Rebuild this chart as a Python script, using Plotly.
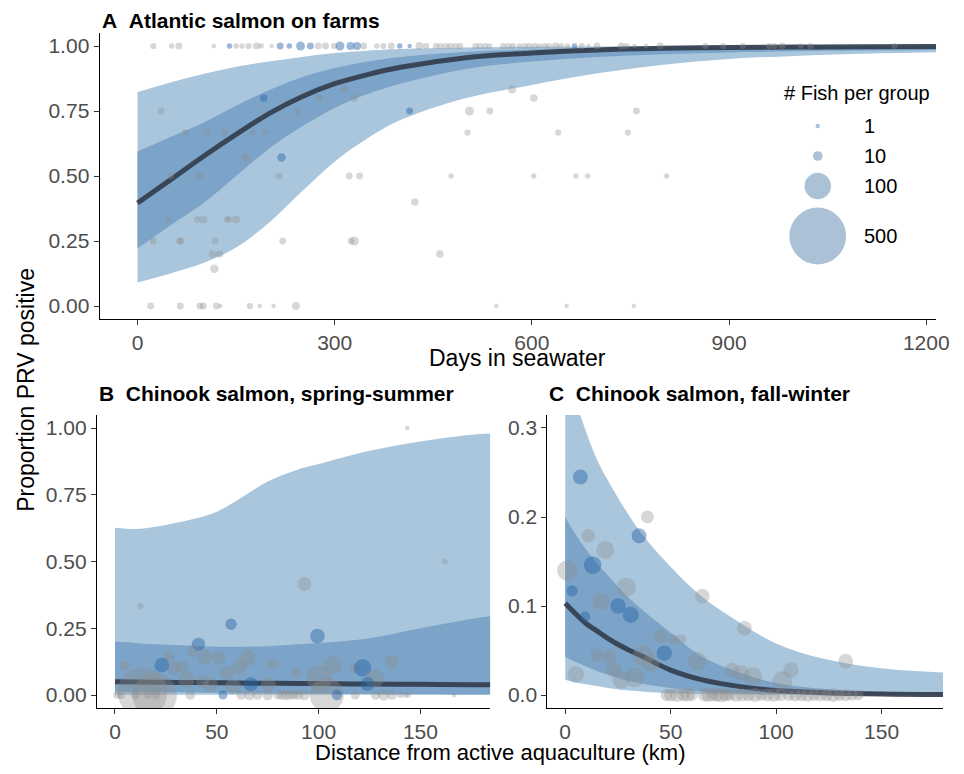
import math
import plotly.graph_objects as go

# ---------------- Panel A: Atlantic salmon on farms ----------------
a_grid = [0, 50, 100, 150, 200, 250, 300, 350, 400, 500, 600, 700, 800, 900, 1000, 1100, 1215]
a_mean = [0.396, 0.485, 0.575, 0.66, 0.74, 0.805, 0.855, 0.89, 0.918, 0.955, 0.973, 0.985, 0.991, 0.994, 0.996, 0.997, 0.998]
a_in_up = [0.594, 0.65, 0.705, 0.77, 0.83, 0.88, 0.915, 0.94, 0.958, 0.977, 0.987, 0.992, 0.995, 0.997, 0.998, 0.998, 0.999]
a_in_lo = [0.222, 0.31, 0.395, 0.50, 0.605, 0.69, 0.762, 0.815, 0.855, 0.912, 0.94, 0.958, 0.968, 0.975, 0.98, 0.983, 0.985]
a_out_up = [0.823, 0.86, 0.892, 0.92, 0.94, 0.958, 0.973, 0.982, 0.988, 0.994, 0.997, 0.998, 0.998, 0.999, 0.999, 0.999, 0.999]
a_out_lo = [0.09, 0.125, 0.165, 0.225, 0.32, 0.44, 0.555, 0.645, 0.715, 0.80, 0.85, 0.895, 0.928, 0.95, 0.962, 0.97, 0.976]

# groups where every fish was positive
a_top_days = [24, 52, 63, 116, 140, 150, 159, 169, 181, 188,
              204, 217, 231, 248, 263, 275, 286, 299, 308, 324,
              334, 344, 364, 374, 386, 399, 414, 429, 439, 454,
              461, 469, 476, 484, 491, 514, 521, 529, 536, 556,
              564, 571, 581, 589, 596, 604, 611, 619, 626, 636,
              644, 654, 665, 676, 686, 699, 736, 744, 756, 774,
              795, 864, 891, 921, 961, 969, 981, 1009, 1024, 1152]
a_top_n = [3, 2, 4, 1, 2, 2, 2, 3, 4, 2,
           1, 4, 2, 8, 4, 4, 4, 3, 8, 6,
           6, 4, 2, 3, 4, 2, 1, 6, 3, 3,
           3, 3, 3, 3, 3, 3, 3, 3, 2, 3,
           3, 3, 2, 3, 3, 3, 2, 3, 3, 4,
           3, 2, 2, 3, 1, 4, 4, 3, 1, 1,
           4, 3, 3, 3, 3, 3, 4, 2, 3, 3]
a_top_blue = [0, 0, 0, 0, 1, 0, 0, 0, 0, 0,
              0, 1, 1, 1, 1, 0, 0, 0, 1, 1,
              1, 0, 0, 0, 0, 1, 1, 0, 0, 0,
              0, 0, 0, 0, 0, 0, 0, 0, 0, 0,
              0, 0, 0, 0, 0, 0, 0, 0, 0, 0,
              0, 0, 1, 0, 0, 0, 0, 0, 0, 0,
              0, 0, 0, 0, 0, 0, 0, 0, 0, 0]

a_days = [36, 192, 244, 276, 314, 330, 414, 505, 536, 570, 603, 759,
          73, 106, 132, 175, 194, 502, 640, 746,
          50, 94, 215, 322, 338, 477, 603, 667, 685, 805,
          165, 219, 422,
          46, 91, 100, 136, 139, 150,
          24, 64, 66, 118, 221, 325, 330,
          114, 125, 460, 117,
          20, 65, 95, 100, 120, 126, 171, 186, 207, 241, 546, 653, 755]
a_prop = [0.75, 0.80, 0.75, 0.80, 0.833, 0.80, 0.75, 0.75, 0.75, 0.833, 0.80, 0.75,
          0.667, 0.667, 0.667, 0.667, 0.667, 0.667, 0.667, 0.667,
          0.5, 0.5, 0.5, 0.5, 0.5, 0.5, 0.5, 0.5, 0.5, 0.5,
          0.571, 0.571, 0.4,
          0.333, 0.333, 0.333, 0.333, 0.333, 0.333,
          0.25, 0.25, 0.25, 0.25, 0.25, 0.25, 0.25,
          0.2, 0.2, 0.2, 0.143,
          0, 0, 0, 0, 0, 0, 0, 0, 0, 0, 0, 0, 0]
a_n = [4, 5, 4, 5, 6, 5, 4, 8, 4, 6, 5, 4,
       3, 3, 3, 3, 3, 3, 3, 3,
       4, 4, 4, 4, 4, 2, 2, 2, 2, 2,
       7, 7, 5,
       3, 3, 6, 3, 3, 6,
       4, 4, 4, 4, 4, 4, 8,
       5, 5, 5, 7,
       4, 4, 4, 4, 4, 1, 3, 1, 1, 6, 1, 1, 1]
a_blue = [0, 1, 0, 0, 0, 0, 1, 0, 0, 0, 0, 0,
          0, 0, 0, 0, 0, 0, 0, 0,
          0, 0, 0, 0, 0, 0, 0, 0, 0, 0,
          0, 1, 0,
          0, 0, 0, 0, 0, 0,
          0, 0, 0, 0, 0, 0, 0,
          0, 0, 0, 0,
          0, 0, 0, 0, 0, 0, 0, 0, 0, 0, 0, 0, 0]

# ---------------- Panel B: Chinook, spring-summer ----------------
b_grid = [0, 10, 20, 30, 40, 50, 60, 75, 90, 100, 125, 150, 175, 184.3]
b_mean = [0.05, 0.049, 0.048, 0.047, 0.047, 0.046, 0.045, 0.044, 0.043, 0.043, 0.041, 0.040, 0.038, 0.038]
b_in_up = [0.20, 0.195, 0.19, 0.187, 0.184, 0.181, 0.181, 0.183, 0.19, 0.195, 0.213, 0.25, 0.285, 0.295]
b_in_lo = [0.013, 0.012, 0.011, 0.010, 0.009, 0.008, 0.0075, 0.007, 0.006, 0.005, 0.004, 0.003, 0.002, 0.002]
b_out_up = [0.627, 0.622, 0.630, 0.645, 0.662, 0.687, 0.73, 0.80, 0.845, 0.865, 0.915, 0.95, 0.975, 0.98]
b_out_lo = [0.001, 0.001, 0.001, 0.001, 0.001, 0.001, 0.001, 0.001, 0.001, 0.001, 0.001, 0.001, 0.001, 0.001]

b_x = [143.5, 162, 12.5, 93, 57, 99.4, 41, 38.5, 26.6, 44.4,
       51, 65, 77.3, 61.2, 55, 33, 29, 23, 4.7, 107,
       117.4, 121.6, 135.7, 127.5, 124, 100.4, 89, 66.7, 75.3, 46.8,
       43, 35, 58, 13.5, 19.5, 104,
       1, 3, 10, 16, 20, 37, 53, 62, 66, 70, 75, 80, 82, 84, 86, 88, 90, 93,
       109, 118, 128, 132, 136, 140, 142.5, 144, 166.5]
b_prop = [1.0, 0.5, 0.333, 0.416, 0.265, 0.221, 0.19, 0.166, 0.144, 0.142,
          0.14, 0.139, 0.116, 0.104, 0.082, 0.106, 0.1, 0.112, 0.11, 0.112,
          0.1, 0.102, 0.125, 0.062, 0.041, 0.065, 0.082, 0.04, 0.039, 0.04,
          0.05, 0.057, 0.032, 0.01, 0.0, 0.0,
          0, 0, 0, 0, 0, 0, 0, 0, 0, 0, 0, 0, 0, 0, 0, 0, 0, 0,
          0, 0, 0, 0, 0, 0, 0, 0, 0]
b_n = [1, 2, 3, 24, 15, 27, 21, 18, 14, 28,
       21, 36, 17, 29, 24, 19, 20, 27, 9, 45,
       10, 39, 24, 48, 24, 92, 12, 25, 26, 25,
       20, 35, 31, 380, 300, 170,
       5, 6, 8, 6, 8, 10, 8, 10, 12, 10, 12, 8, 10, 12, 10, 8, 10, 12,
       12, 8, 10, 14, 10, 3, 2, 2, 1]
b_blue = [0, 0, 0, 0, 1, 1, 1, 0, 0, 0,
          0, 0, 0, 0, 0, 0, 0, 1, 0, 0,
          0, 1, 0, 0, 1, 0, 0, 1, 0, 0,
          0, 0, 0, 0, 0, 0,
          0, 0, 0, 0, 0, 0, 1, 0, 0, 0, 0, 0, 0, 0, 0, 0, 0, 0,
          1, 0, 0, 0, 0, 0, 0, 0, 0]

# ---------------- Panel C: Chinook, fall-winter ----------------
c_grid = [0, 5, 10, 15, 20, 28, 36, 50, 65, 83, 100, 122, 150, 183]
c_mean = [0.103, 0.091, 0.080, 0.072, 0.064, 0.053, 0.044, 0.028, 0.017, 0.0094, 0.005, 0.0025, 0.001, 0.0004]
c_in_up = [0.20, 0.18, 0.163, 0.148, 0.135, 0.114, 0.097, 0.07, 0.043, 0.025, 0.0135, 0.007, 0.003, 0.001]
c_in_lo = [0.043, 0.037, 0.032, 0.027, 0.023, 0.017, 0.013, 0.008, 0.004, 0.002, 0.001, 0.0005, 0.0002, 0.0001]
c_out_up = [0.37, 0.33, 0.295, 0.265, 0.242, 0.21, 0.182, 0.144, 0.11, 0.081, 0.058, 0.041, 0.030, 0.025]
c_out_lo = [0.017, 0.014, 0.012, 0.010, 0.008, 0.0056, 0.004, 0.002, 0.001, 0.0005, 0.0002, 0.0001, 0.0, 0.0]

c_x = [7.2, 39, 35, 11, 19, 13, 1, 3.3, 29, 17, 25, 31, 9.5, 65, 85, 45.3, 51.2, 55, 47, 37,
       40.6, 62.7, 15, 21, 23, 26.6, 33, 5, 79, 83.5, 89, 103, 107, 133,
       48, 50, 53, 56, 58, 60, 66, 68, 70, 72, 74, 76, 78, 81, 84, 87, 90, 93, 96, 99,
       102, 106, 109, 112, 115, 118, 121, 124, 127, 130, 133, 136, 139]
c_prop = [0.245, 0.20, 0.179, 0.179, 0.163, 0.146, 0.14, 0.117, 0.121, 0.105, 0.10, 0.09, 0.088,
          0.111, 0.075, 0.066, 0.0625, 0.0625, 0.047, 0.044,
          0.036, 0.038, 0.045, 0.043, 0.029, 0.017, 0.0195, 0.023, 0.028, 0.025, 0.021, 0.0157, 0.028, 0.038,
          0, 0, 0, 0, 0, 0, 0, 0, 0, 0, 0, 0, 0, 0, 0, 0, 0, 0, 0, 0,
          0, 0, 0, 0, 0, 0, 0, 0, 0, 0, 0, 0, 0]
c_n = [28, 20, 28, 22, 43, 41, 57, 14, 50, 38, 30, 33, 11, 27, 27, 22, 11, 11, 30, 60,
       40, 45, 22, 23, 30, 40, 50, 35, 27, 30, 45, 55, 30, 27,
       16, 20, 24, 18, 22, 16, 20, 24, 18, 22, 26, 18, 16, 22, 20, 18, 24, 16, 20, 22,
       18, 16, 20, 18, 22, 16, 20, 18, 24, 16, 18, 14, 12]
c_blue = [1, 0, 1, 0, 0, 1, 0, 1, 0, 0, 1, 1, 1, 0, 0, 0, 0, 0, 1, 0,
          0, 0, 0, 0, 0, 0, 0, 0, 0, 0, 0, 0, 0, 0,
          0, 0, 0, 0, 0, 0, 0, 0, 0, 0, 0, 0, 0, 0, 0, 0, 0, 0, 0, 0,
          0, 0, 0, 0, 0, 0, 0, 0, 0, 0, 0, 0, 0]

# ---------------- Legend ----------------
legend_counts = [1, 10, 100, 500]
legend_labels = ["1", "10", "100", "500"]

# ---------------- Styles / page geometry ----------------
PAGE_W, PAGE_H = 964, 774
OFF = 8  # default body margin of the html page
W, H = PAGE_W - 2 * OFF, PAGE_H - 2 * OFF   # fits the window: no scrolling, no rescaling
FONT = "Liberation Sans, Arial, Helvetica, sans-serif"
LIGHT = "#aac6dd"
DARK = "#7ba4c8"
LINE = "rgba(50,62,78,0.92)"
GREY = "rgba(140,140,140,0.5)"
BLUE = "rgba(40,100,165,0.65)"
LEG = "rgba(70,120,165,0.65)"


def sz(ns):
    return [2 + 2.45 * math.sqrt(n) for n in ns]


def cols(flags):
    return [BLUE if f else GREY for f in flags]


def px_x(px):
    return (px - OFF) / W


def px_y(py):
    return 1 - (py - OFF) / H


fig = go.Figure()


def add_bands(grid, out_lo, out_up, in_lo, in_up, mean, xa, ya):
    common = dict(xaxis=xa, yaxis=ya, mode="lines", hoverinfo="skip", showlegend=False)
    fig.add_trace(go.Scatter(x=grid, y=out_lo, line=dict(width=0, shape="spline"), **common))
    fig.add_trace(go.Scatter(x=grid, y=out_up, line=dict(width=0, shape="spline"),
                             fill="tonexty", fillcolor=LIGHT, **common))
    fig.add_trace(go.Scatter(x=grid, y=in_lo, line=dict(width=0, shape="spline"), **common))
    fig.add_trace(go.Scatter(x=grid, y=in_up, line=dict(width=0, shape="spline"),
                             fill="tonexty", fillcolor=DARK, **common))
    fig.add_trace(go.Scatter(x=grid, y=mean, line=dict(width=5, color=LINE, shape="spline"), **common))


def add_points(x, y, n, blue, xa, ya):
    fig.add_trace(go.Scatter(x=x, y=y, mode="markers", xaxis=xa, yaxis=ya, showlegend=False,
                             marker=dict(size=sz(n), color=cols(blue), line=dict(width=0)),
                             hoverinfo="skip"))


add_bands(a_grid, a_out_lo, a_out_up, a_in_lo, a_in_up, a_mean, "x", "y")
add_points(a_days, a_prop, a_n, a_blue, "x", "y")
add_points(a_top_days, [1.0] * len(a_top_days), a_top_n, a_top_blue, "x", "y")

add_bands(b_grid, b_out_lo, b_out_up, b_in_lo, b_in_up, b_mean, "x2", "y2")
add_points(b_x, b_prop, b_n, b_blue, "x2", "y2")

add_bands(c_grid, c_out_lo, c_out_up, c_in_lo, c_in_up, c_mean, "x3", "y3")
add_points(c_x, c_prop, c_n, c_blue, "x3", "y3")

# legend symbols on a hidden pixel-space overlay axis
legend_x = 829
legend_rows = [126, 156, 186, 236]
fig.add_trace(go.Scatter(x=[legend_x] * len(legend_counts), y=legend_rows, mode="markers",
                         xaxis="x4", yaxis="y4", showlegend=False, hoverinfo="skip",
                         marker=dict(size=sz(legend_counts), color=LEG, line=dict(width=0))))


def axis(domain, rng, tickvals, ticktext, anchor):
    return dict(domain=domain, range=rng, tickvals=tickvals, ticktext=ticktext, anchor=anchor,
                showline=True, linecolor="black", linewidth=1.4, ticks="outside", ticklen=5,
                tickwidth=1.2, tickcolor="#333333", showgrid=False, zeroline=False,
                ticklabeloverflow="allow",
                tickfont=dict(family=FONT, size=21, color="#4d4d4d"), fixedrange=True)


yt4 = [0, 0.25, 0.5, 0.75, 1.0]
yl4 = ["0.00", "0.25", "0.50", "0.75", "1.00"]

# panel C runs to the right edge of the visible figure
c_right_px = PAGE_W - OFF
c_right_val = (c_right_px - 573) / 2.138

fig.update_layout(
    width=W, height=H, margin=dict(l=0, r=0, t=0, b=0),
    paper_bgcolor="white", plot_bgcolor="rgba(0,0,0,0)",
    font=dict(family=FONT, color="black"),
    xaxis=axis([px_x(101), px_x(949)], [-57.5, 1215], [0, 300, 600, 900, 1200],
               ["0", "300", "600", "900", "1200"], "y"),
    yaxis=axis([px_y(318.5), px_y(33)], [-0.048, 1.05], yt4, yl4, "x"),
    xaxis2=axis([px_x(98.3), px_x(497)], [-8.8, 184.3], [0, 50, 100, 150],
                ["0", "50", "100", "150"], "y2"),
    yaxis2=axis([px_y(708), px_y(415)], [-0.0487, 1.049], yt4, yl4, "x2"),
    xaxis3=axis([px_x(555), px_x(c_right_px)], [-8.4, c_right_val], [0, 50, 100, 150],
                ["0", "50", "100", "150"], "y3"),
    yaxis3=axis([px_y(708), px_y(415)], [-0.0146, 0.3146], [0, 0.1, 0.2, 0.3],
                ["0.0", "0.1", "0.2", "0.3"], "x3"),
    xaxis4=dict(domain=[0, 1], range=[OFF, PAGE_W - OFF], visible=False, anchor="y4", fixedrange=True),
    yaxis4=dict(domain=[0, 1], range=[PAGE_H - OFF, OFF], visible=False, anchor="x4", fixedrange=True),
)

ann = []
NB = "\u00a0\u00a0"
for txt, x0, y0 in [("A" + NB + "Atlantic salmon on farms", 101, 20),
                    ("B" + NB + "Chinook salmon, spring-summer", 98, 393),
                    ("C" + NB + "Chinook salmon, fall-winter", 555, 393)]:
    ann.append(dict(text="<b>" + txt + "</b>", x=px_x(x0), y=px_y(y0), xref="paper", yref="paper",
                    xanchor="left", yanchor="middle", showarrow=False,
                    font=dict(family=FONT, size=21, color="black")))

ann.append(dict(text="Days in seawater", x=px_x(525), y=px_y(358), xref="paper", yref="paper",
                xanchor="center", yanchor="middle", showarrow=False,
                font=dict(family=FONT, size=23, color="black")))
ann.append(dict(text="Distance from active aquaculture (km)", x=px_x(507), y=px_y(765),
                xref="paper", yref="paper", xanchor="center", yanchor="bottom", yshift=-2,
                showarrow=False, font=dict(family=FONT, size=22, color="black")))
ann.append(dict(text="Proportion PRV positive", x=px_x(26), y=px_y(390), xref="paper",
                yref="paper", xanchor="center", yanchor="middle", showarrow=False, textangle=-90,
                font=dict(family=FONT, size=23, color="black")))

ann.append(dict(text="# Fish per group", x=px_x(869), y=px_y(93), xref="paper", yref="paper",
                xanchor="center", yanchor="middle", showarrow=False,
                font=dict(family=FONT, size=20, color="black")))
for lab, row in zip(legend_labels, legend_rows):
    ann.append(dict(text=lab, x=px_x(874), y=px_y(row), xref="paper", yref="paper",
                    xanchor="left", yanchor="middle", showarrow=False,
                    font=dict(family=FONT, size=20, color="black")))

fig.update_layout(annotations=ann)
fig.write_html("out.html")
